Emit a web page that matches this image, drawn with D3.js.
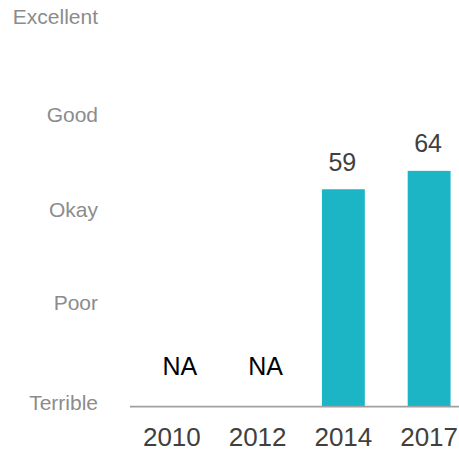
<!DOCTYPE html>
<html>
<head>
<meta charset="utf-8">
<script src="https://cdn.jsdelivr.net/npm/d3@7"></script>
<style>
  html, body { margin: 0; padding: 0; background: #fff; }
  svg { display: block; font-family: "Liberation Sans", Arial, sans-serif; }
</style>
</head>
<body>
<svg id="chart" width="459" height="452"></svg>
<script>
const categories = ["2010", "2012", "2014", "2017"];
const values = [null, null, 59, 64];
const tickLabels = ["Terrible", "Poor", "Okay", "Good", "Excellent"];
const tickValues = [1, 28.2, 53.4, 79.3, 105.8];
const naLabel = "NA";

const svg = d3.select("#chart");
const x = d3.scaleBand().domain(categories).range([129, 472]).paddingInner(0.5).paddingOuter(0.25);
const y = d3.scaleLinear().domain([0, 100]).range([406.5, 38.3]);

// y tick labels
svg.append("g").selectAll("text").data(tickLabels).join("text")
  .attr("x", 98)
  .attr("y", (d, i) => y(tickValues[i]) + 7.4)
  .attr("text-anchor", "end")
  .attr("font-size", 21)
  .attr("fill", "#8c8c8c")
  .text(d => d);

// bars
const data = categories.map((c, i) => ({ c, v: values[i] }));
svg.append("g").selectAll("rect").data(data.filter(d => d.v != null)).join("rect")
  .attr("x", d => x(d.c))
  .attr("width", x.bandwidth())
  .attr("y", d => y(d.v))
  .attr("height", d => y(0) - y(d.v))
  .attr("fill", "#1bb5c6");

// value labels
svg.append("g").selectAll("text").data(data).join("text")
  .attr("x", d => x(d.c) + x.bandwidth() / 2 + (d.v == null ? 8 : -1))
  .attr("y", d => d.v == null ? y(0) - 32 : y(d.v) - 18.5)
  .attr("text-anchor", "middle")
  .attr("font-size", 25)
  .attr("fill", d => d.v == null ? "#000" : "#404040")
  .text(d => d.v == null ? naLabel : d.v);

// x axis line
svg.append("line")
  .attr("x1", 130).attr("x2", 459)
  .attr("y1", y(0) + 0.2).attr("y2", y(0) + 0.2)
  .attr("stroke", "#a0a0a0").attr("stroke-width", 1.8);

// x labels
svg.append("g").selectAll("text").data(categories).join("text")
  .attr("x", d => x(d) + x.bandwidth() / 2)
  .attr("y", 446)
  .attr("text-anchor", "middle")
  .attr("font-size", 26)
  .attr("fill", "#404040")
  .text(d => d);
</script>
</body>
</html>
